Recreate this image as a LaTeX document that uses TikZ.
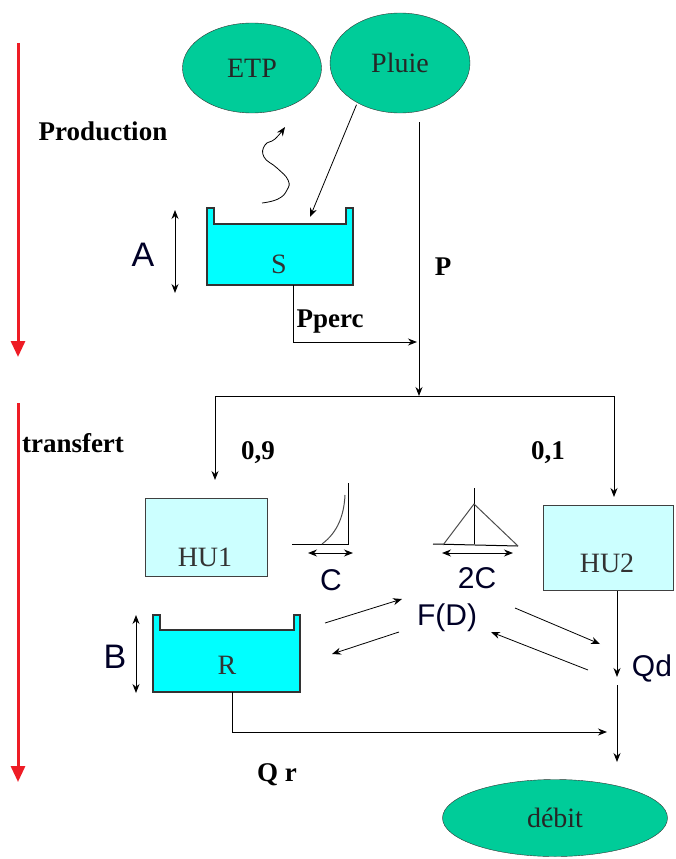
\documentclass[tikz,border=0pt]{standalone}
\usepackage{fontspec}
\setmainfont{Liberation Serif}
\setsansfont{Liberation Sans}
\usetikzlibrary{arrows.meta,positioning,shapes.geometric}
\definecolor{grgreen}{HTML}{00CC99}
\definecolor{watercyan}{HTML}{00FFFF}
\definecolor{hucyan}{HTML}{CCFFFF}
\definecolor{phasered}{HTML}{EE1C25}

\begin{document}
\begin{tikzpicture}[x=1pt, y=-1pt,
  inbox/.style={ellipse, draw=black!80, fill=grgreen, inner sep=0pt, font=\fontsize{28}{32}\selectfont, text=black!85},
  hubox/.style={draw=black!75, fill=hucyan, inner sep=0pt, line width=1pt},
  serlbl/.style={font=\fontsize{28}{32}\selectfont, text=black!80},
  boldlbl/.style={font=\bfseries\fontsize{27}{30}\selectfont},
  sanslbl/.style={font=\sffamily\fontsize{30}{34}\selectfont, text=black!85!blue},
  tank/.style={draw=black!80, fill=watercyan, line width=1.2pt},
  arr/.style={-{Stealth[length=9pt,width=7pt]}, line width=1pt},
  dblarr/.style={{Stealth[length=9pt,width=7pt]}-{Stealth[length=9pt,width=7pt]}, line width=1pt},
  phase/.style={-{Triangle[length=16pt,width=14pt]}, line width=3pt, color=phasered},
  hydro/.style={line width=1pt}
]
\useasboundingbox (0,0) rectangle (676,859);

% phases
\coordinate (prodtop) at (18,43);
\coordinate (prodbot) at (18,357);
\coordinate (transtop) at (18,403);
\coordinate (transbot) at (18,782);
\draw[phase] (prodtop) -- (prodbot);
\draw[phase] (transtop) -- (transbot);
\node[boldlbl] (prod) at (103,131) {Production};
\node[boldlbl] (transf) at (73,443) {transfert};

% inputs
\node[inbox, minimum width=139, minimum height=90] (etp) at (252,68) {ETP};
\node[inbox, minimum width=140, minimum height=100] (pluie) at (400,63) {Pluie};

% production store S
\filldraw[tank] (207,208) -- (207,285) -- (353,285) -- (353,208) -- (346,208) -- (346,224) -- (214,224) -- (214,208) -- cycle;
\node[serlbl] (lblS) at (279,264) {S};
\coordinate (atop) at (175,210);
\coordinate (abot) at (175,293);
\draw[dblarr] (atop) -- (abot);
\node[sanslbl, font=\sffamily\fontsize{34}{38}\selectfont] (lblA) at (143,255) {A};
\draw[arr, line width=0.8pt] plot[smooth, tension=0.8] coordinates {(262,203) (278,199) (287,190) (288,180) (277,168) (264,157) (265,145) (275,139) (285,127)};
\coordinate (sin) at (310,217);
\draw[arr, line width=0.8pt, shorten <=2pt] (pluie.-137) -- (sin);

% P and Pperc
\coordinate (ptop) at (419,122);
\coordinate (split) at (419,396);
\coordinate (sout) at (293,285);
\coordinate (pjoin) at (417,342);
\draw[arr] (ptop) -- (split);
\draw[arr] (sout) |- (pjoin);
\node[boldlbl] (lblP) at (443,267) {P};
\node[boldlbl] (lblPperc) at (330,322) {Pperc};

% split to HU1 / HU2
\coordinate (hu1in) at (215,480);
\coordinate (hu2in) at (614,497);
\draw[arr] (split) -| (hu1in);
\draw[arr] (split) -| (hu2in);
\node[boldlbl] (lbl09) at (258,453) {0,9};
\node[boldlbl] (lbl01) at (548,453) {0,1};

\node[hubox, minimum width=122, minimum height=78] (hu1) at (206,537) {};
\node[serlbl] (lblhu1) at (205,557) {HU1};
\node[hubox, minimum width=130, minimum height=85] (hu2) at (608,548) {};
\node[serlbl] (lblhu2) at (607,563) {HU2};

% unit hydrographs
\draw[hydro] (292,544) -- (348,544) -- (348,483);
\draw[hydro, black!70] (322,544) .. controls (338,532) and (344,515) .. (345,495);
\coordinate (cl) at (308,553);
\coordinate (cr) at (353,553);
\draw[dblarr] (cl) -- (cr);
\node[sanslbl] (lblC) at (331,580) {C};
\draw[hydro] (433,544) -- (518,546);
\draw[hydro] (474,488) -- (474,544);
\draw[hydro, black!70] (443,545) -- (474,504) -- (518,546);
\coordinate (ccl) at (442,553);
\coordinate (ccr) at (513,553);
\draw[dblarr] (ccl) -- (ccr);
\node[sanslbl] (lbl2C) at (477,578) {2C};

% routing store R
\filldraw[tank] (153,615) -- (153,692) -- (300,692) -- (300,615) -- (294,615) -- (294,630) -- (160,630) -- (160,615) -- cycle;
\node[serlbl] (lblR) at (227,665) {R};
\coordinate (btop) at (136,615);
\coordinate (bbot) at (136,693);
\draw[dblarr] (btop) -- (bbot);
\node[sanslbl, font=\sffamily\fontsize{34}{38}\selectfont] (lblB) at (115,657) {B};

% exchange F(D)
\node[sanslbl] (fd) at (447,618) {F(D)};
\coordinate (rout) at (325,623);
\coordinate (fdin1) at (402,599);
\coordinate (fdout1) at (399,632);
\coordinate (rin) at (332,654);
\coordinate (fdout2) at (515,608);
\coordinate (qdin) at (600,644);
\coordinate (qdout) at (588,670);
\coordinate (fdin2) at (491,632);
\draw[arr, line width=0.8pt] (rout) -- (fdin1);
\draw[arr, line width=0.8pt] (fdout1) -- (rin);
\draw[arr, line width=0.8pt] (fdout2) -- (qdin);
\draw[arr, line width=0.8pt] (qdout) -- (fdin2);

% outflows
\coordinate (qdtip) at (617,677);
\coordinate (qsum) at (617,685);
\coordinate (qout) at (617,762);
\coordinate (rbot) at (232,692);
\coordinate (qrtip) at (607,732);
\draw[arr] (hu2.south -| qdtip) -- (qdtip);
\node[sanslbl] (lblQd) at (652,668) {Qd};
\draw[arr] (rbot) |- (qrtip);
\draw[arr] (qsum) -- (qout);
\node[boldlbl] (lblQr) at (277,775) {Q r};

\node[inbox, minimum width=225, minimum height=77] (debit) at (555,818) {débit};
\end{tikzpicture}
\end{document}
